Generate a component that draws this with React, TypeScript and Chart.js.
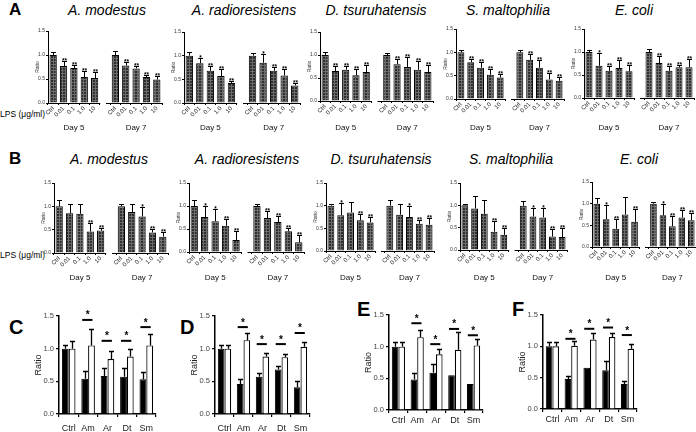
import React, { useEffect, useRef } from "react";
import { Chart, registerables } from "chart.js";
Chart.register(...registerables);

const FONT = "'Liberation Sans', Arial, Helvetica, sans-serif";

// ---------- categories / labels ----------
const lpsDoses = ["Ctrl", "0.01", "0.1", "1.0", "10"];
const dayLabels = ["Day 5", "Day 7"];
const species = ["A. modestus", "A. radioresistens", "D. tsuruhatensis", "S. maltophilia", "E. coli"];
const strainGroups = ["Ctrl", "Am", "Ar", "Dt", "Sm"];
const lpsAxisLabel = "LPS (\u03bcg/ml)";
const yTitle = "Ratio";

// ---------- Panel A (Day 5 x5, Day 7 x5) ----------
const amMeanA = [1.0, 0.77, 0.73, 0.54, 0.52, 1.0, 0.78, 0.72, 0.54, 0.49];
const amErrA = [1.07, 0.87, 0.8, 0.66, 0.64, 1.08, 0.85, 0.78, 0.58, 0.56];
const amStarsA = ["", "**", "**", "**", "**", "", "**", "**", "**", "**"];

const arMeanA = [1.0, 0.84, 0.68, 0.57, 0.42, 1.0, 0.85, 0.68, 0.58, 0.37];
const arErrA = [1.07, 0.96, 0.78, 0.71, 0.47, 1.05, 1.03, 0.76, 0.71, 0.42];
const arStarsA = ["", "*", "**", "**", "**", "", "*", "**", "**", "**"];

const dtMeanA = [1.0, 0.65, 0.68, 0.56, 0.63, 1.0, 0.8, 0.74, 0.68, 0.63];
const dtErrA = [1.07, 0.76, 0.76, 0.69, 0.78, 1.05, 0.92, 0.96, 0.87, 0.78];
const dtStarsA = ["", "**", "**", "**", "**", "", "**", "**", "**", "**"];

const smMeanA = [1.0, 0.79, 0.67, 0.52, 0.46, 1.0, 0.84, 0.67, 0.42, 0.39];
const smErrA = [1.05, 0.86, 0.8, 0.64, 0.53, 1.04, 0.97, 0.84, 0.55, 0.48];
const smStarsA = ["", "**", "**", "**", "**", "", "**", "**", "**", "**"];

const ecMeanA = [1.0, 0.7, 0.59, 0.65, 0.58, 1.0, 0.76, 0.59, 0.67, 0.67];
const ecErrA = [1.05, 0.98, 0.7, 0.83, 0.72, 1.07, 0.91, 0.69, 0.72, 0.84];
const ecStarsA = ["", "*", "**", "**", "**", "", "**", "**", "**", "**"];

// ---------- Panel B ----------
const amMeanB = [1.0, 0.85, 0.84, 0.46, 0.48, 1.0, 0.88, 0.78, 0.44, 0.35];
const amErrB = [1.14, 1.06, 1.05, 0.64, 0.53, 1.05, 1.06, 0.99, 0.51, 0.46];
const amStarsB = ["", "", "", "**", "**", "", "", "*", "**", "**"];

const arMeanB = [1.0, 0.76, 0.67, 0.57, 0.26, 1.0, 0.74, 0.65, 0.45, 0.21];
const arErrB = [1.14, 1.0, 0.93, 0.71, 0.46, 1.05, 0.9, 0.79, 0.52, 0.36];
const arStarsB = ["", "*", "*", "**", "**", "", "**", "**", "**", "**"];

const dtMeanB = [1.0, 0.79, 0.85, 0.68, 0.63, 1.0, 0.8, 0.75, 0.6, 0.58];
const dtErrB = [1.03, 1.06, 1.07, 0.81, 0.76, 1.12, 1.04, 0.99, 0.68, 0.72];
const dtStarsB = ["", "*", "", "**", "**", "", "", "*", "**", "**"];

const smMeanB = [1.0, 0.93, 0.81, 0.41, 0.34, 0.99, 0.75, 0.73, 0.3, 0.29];
const smErrB = [1.02, 1.2, 1.11, 0.64, 0.49, 1.09, 0.93, 0.93, 0.46, 0.49];
const smStarsB = ["", "", "", "**", "**", "", "*", "*", "**", "**"];

const ecMeanB = [1.0, 0.64, 0.42, 0.75, 0.58, 1.0, 0.73, 0.48, 0.68, 0.62];
const ecErrB = [1.14, 0.96, 0.65, 1.15, 0.88, 1.04, 1.0, 0.71, 0.86, 0.78];
const ecStarsB = ["", "*", "**", "", "**", "", "*", "**", "**", "**"];

// ---------- Panels C-F (black = filled, white = open) ----------
const cBlack = [1.0, 0.54, 0.58, 0.57, 0.53];
const cBlackErr = [1.06, 0.66, 0.7, 0.7, 0.64];
const cWhite = [1.0, 1.05, 0.84, 0.88, 1.05];
const cWhiteErr = [1.11, 1.3, 0.96, 1.0, 1.22];
const cSig = [null, 1.44, 1.12, 1.12, 1.33];

const dBlack = [1.0, 0.46, 0.57, 0.68, 0.41];
const dBlackErr = [1.06, 0.54, 0.63, 0.74, 0.51];
const dWhite = [1.0, 1.13, 0.88, 0.87, 1.03];
const dWhiteErr = [1.05, 1.24, 0.93, 0.92, 1.1];
const dSig = [null, 1.33, 1.07, 1.07, 1.24];

const eBlack = [1.0, 0.48, 0.59, 0.55, 0.41];
const eBlackErr = [1.07, 0.59, 0.72, null, null];
const eWhite = [1.0, 1.15, 0.88, 0.95, 1.02];
const eWhiteErr = [1.07, 1.26, 0.97, 1.23, 1.12];
const eSig = [null, 1.37, 1.04, 1.28, 1.18];

const fBlack = [1.0, 0.48, 0.66, 0.62, 0.4];
const fBlackErr = [1.07, 0.52, null, 0.76, 0.45];
const fWhite = [1.0, 1.01, 1.11, 1.15, 0.96];
const fWhiteErr = [1.07, 1.08, 1.21, 1.22, 1.04];
const fSig = [null, 1.12, 1.28, 1.3, 1.18];

// ---------- tables built from arrays ----------
const rowA = [
  { mean: amMeanA, err: amErrA, stars: amStarsA },
  { mean: arMeanA, err: arErrA, stars: arStarsA },
  { mean: dtMeanA, err: dtErrA, stars: dtStarsA },
  { mean: smMeanA, err: smErrA, stars: smStarsA },
  { mean: ecMeanA, err: ecErrA, stars: ecStarsA },
];
const rowB = [
  { mean: amMeanB, err: amErrB, stars: amStarsB },
  { mean: arMeanB, err: arErrB, stars: arStarsB },
  { mean: dtMeanB, err: dtErrB, stars: dtStarsB },
  { mean: smMeanB, err: smErrB, stars: smStarsB },
  { mean: ecMeanB, err: ecErrB, stars: ecStarsB },
];
const bottom = [
  { black: cBlack, blackErr: cBlackErr, white: cWhite, whiteErr: cWhiteErr, sig: cSig },
  { black: dBlack, blackErr: dBlackErr, white: dWhite, whiteErr: dWhiteErr, sig: dSig },
  { black: eBlack, blackErr: eBlackErr, white: eWhite, whiteErr: eWhiteErr, sig: eSig },
  { black: fBlack, blackErr: fBlackErr, white: fWhite, whiteErr: fWhiteErr, sig: fSig },
];

// ---------- layout (plot rectangles: left, right, top(1.5), bottom(0)) ----------
const rowARects = [
  [48, 162, 31, 103],
  [184, 300, 32, 103],
  [320, 433, 32, 101],
  [456, 564, 29, 99],
  [584, 694, 29, 98],
];
const rowBRects = [
  [54, 168, 183, 253],
  [189, 304, 183, 252],
  [326, 434, 183, 251],
  [460, 567, 183, 250],
  [592, 696, 182, 247],
];
const bottomRects = [
  [59, 156, 316, 414, 6],
  [215, 310, 316, 414, 6],
  [389, 483, 315, 410, 2],
  [543, 637, 315, 409, 2],
];
const titleCentersA = [107, 244, 376, 508, 634];
const titleCentersB = [109, 247, 381, 511, 639];
const letterPos = [
  [9, 1, 17],
  [9, 150, 17],
  [9, 317, 20],
  [180, 317, 20],
  [357, 299, 20],
  [512, 299, 20],
];
const letters = ["A", "B", "C", "D", "E", "F"];

function hatch(ctx: CanvasRenderingContext2D) {
  const pc = document.createElement("canvas");
  pc.width = 3;
  pc.height = 3;
  const g = pc.getContext("2d")!;
  g.fillStyle = "#2e2e2e";
  g.fillRect(0, 0, 3, 3);
  g.fillStyle = "#6c6c6c";
  g.fillRect(0, 0, 3, 1);
  g.fillRect(0, 0, 1, 3);
  return ctx.createPattern(pc, "repeat");
}

function SmallPanel({ mean, err, stars, rect, dayY }: any) {
  const ref = useRef<HTMLCanvasElement>(null);
  const [l, r, t, b] = rect;
  const YW = 13, PT = 6, PR = 3, XH = 14, PB = 28;
  const W = YW + (r - l) + PR;
  const H = PT + (b - t) + XH + PB;
  const top = t - PT;
  useEffect(() => {
    const cv = ref.current!;
    const ctx0 = cv.getContext("2d")!;
    const labels = [...lpsDoses, "", ...lpsDoses];
    const vals = [...mean.slice(0, 5), null, ...mean.slice(5)];
    const errs = [...err.slice(0, 5), null, ...err.slice(5)];
    const st = [...stars.slice(0, 5), "", ...stars.slice(5)];
    const decor = {
      id: "decorSmall",
      afterDatasetsDraw(chart: any) {
        const ctx = chart.ctx;
        const xs = chart.scales.x;
        const ys = chart.scales.y;
        const ca = chart.chartArea;
        const meta = chart.getDatasetMeta(0);
        ctx.save();
        ctx.strokeStyle = "#000";
        ctx.fillStyle = "#000";
        ctx.lineWidth = 1;
        meta.data.forEach((bar: any, i: number) => {
          if (errs[i] == null || vals[i] == null) return;
          const x = Math.round(bar.x) + 0.5;
          const y0 = ys.getPixelForValue(vals[i]);
          const y1 = Math.round(ys.getPixelForValue(errs[i])) + 0.5;
          ctx.beginPath();
          ctx.moveTo(x, y0);
          ctx.lineTo(x, y1);
          ctx.moveTo(x - 2.5, y1);
          ctx.lineTo(x + 2.5, y1);
          ctx.stroke();
          if (st[i]) {
            ctx.font = `bold 6.5px ${FONT}`;
            ctx.textAlign = "center";
            ctx.textBaseline = "alphabetic";
            ctx.fillText(st[i], x, y1 + 1.5);
          }
        });
        // broken x axis
        const yb = Math.round(ca.bottom) + 0.5;
        const x4 = xs.getPixelForValue(4);
        const x5 = xs.getPixelForValue(5);
        const bw = meta.data[4].width;
        ctx.beginPath();
        ctx.moveTo(ca.left, yb);
        ctx.lineTo(x4 + bw / 2 + 2, yb);
        ctx.moveTo(x5 + 1, yb);
        ctx.lineTo(ca.right, yb);
        ctx.stroke();
        // day labels
        ctx.font = `8px ${FONT}`;
        ctx.textAlign = "center";
        ctx.textBaseline = "middle";
        ctx.fillStyle = "#111";
        const c5 = (xs.getPixelForValue(0) + xs.getPixelForValue(4)) / 2;
        const c7 = (xs.getPixelForValue(6) + xs.getPixelForValue(10)) / 2;
        ctx.fillText(dayLabels[0], c5, dayY - top);
        ctx.fillText(dayLabels[1], c7, dayY - top);
        ctx.restore();
      },
    };
    const chart = new Chart(cv, {
      type: "bar",
      data: {
        labels,
        datasets: [
          {
            data: vals,
            backgroundColor: hatch(ctx0) as any,
            borderColor: "#000",
            borderWidth: 1,
            barPercentage: 0.7,
            categoryPercentage: 1,
          },
        ],
      },
      options: {
        animation: false,
        responsive: false,
        maintainAspectRatio: false,
        devicePixelRatio: 1,
        layout: { padding: { top: PT, right: PR, bottom: PB, left: 0 } },
        plugins: { legend: { display: false }, tooltip: { enabled: false } },
        scales: {
          x: {
            type: "category",
            offset: true,
            grid: { display: true, drawOnChartArea: false, drawTicks: true, tickLength: 2, color: "#000" },
            border: { display: false },
            ticks: {
              autoSkip: false,
              minRotation: 45,
              maxRotation: 45,
              padding: 0,
              font: { size: 6, family: FONT },
              color: "#222",
            },
            afterFit(s: any) {
              s.height = XH;
              s.paddingLeft = 0;
              s.paddingRight = 0;
            },
          },
          y: {
            min: 0,
            max: 1.5,
            ticks: {
              stepSize: 0.5,
              callback: (v: any) => Number(v).toFixed(1),
              font: { size: 5, family: FONT },
              color: "#333",
              padding: 1,
            },
            grid: { display: true, drawOnChartArea: false, drawTicks: true, tickLength: 2, color: "#000" },
            border: { display: true, color: "#000", width: 1 },
            title: { display: true, text: yTitle, font: { size: 5, family: FONT }, color: "#333", padding: 0 },
            afterFit(s: any) {
              s.width = YW;
              s.paddingTop = 0;
              s.paddingBottom = 0;
            },
          },
        },
      } as any,
      plugins: [decor],
    });
    return () => chart.destroy();
  }, []);
  return (
    <canvas
      ref={ref}
      width={W}
      height={H}
      style={{ position: "absolute", left: l - YW, top, width: W, height: H }}
    />
  );
}

function PairPanel({ black, blackErr, white, whiteErr, sig, rect }: any) {
  const ref = useRef<HTMLCanvasElement>(null);
  const [l, r, t, b, tickPad] = rect;
  const YW = 26, PT = 12, PR = 4, XH = 18;
  const W = YW + (r - l) + PR;
  const H = PT + (b - t) + XH;
  const top = t - PT;
  useEffect(() => {
    const cv = ref.current!;
    const decor = {
      id: "decorPair",
      afterDatasetsDraw(chart: any) {
        const ctx = chart.ctx;
        const ys = chart.scales.y;
        const m0 = chart.getDatasetMeta(0);
        const m1 = chart.getDatasetMeta(1);
        ctx.save();
        ctx.strokeStyle = "#000";
        ctx.fillStyle = "#000";
        const drawErr = (meta: any, vals: any[], errs: any[]) => {
          meta.data.forEach((bar: any, i: number) => {
            if (errs[i] == null) return;
            const x = Math.round(bar.x) + 0.5;
            const y0 = ys.getPixelForValue(vals[i]);
            const y1 = Math.round(ys.getPixelForValue(errs[i])) + 0.5;
            ctx.lineWidth = 1.3;
            ctx.beginPath();
            ctx.moveTo(x, y0);
            ctx.lineTo(x, y1);
            ctx.moveTo(x - 2.5, y1);
            ctx.lineTo(x + 2.5, y1);
            ctx.stroke();
          });
        };
        drawErr(m0, black, blackErr);
        drawErr(m1, white, whiteErr);
        sig.forEach((v: any, i: number) => {
          if (v == null) return;
          const bx = m0.data[i].x;
          const wx = m1.data[i].x;
          const y = ys.getPixelForValue(v);
          ctx.lineWidth = 2;
          ctx.beginPath();
          ctx.moveTo(bx - 2.5, y);
          ctx.lineTo(wx + 1, y);
          ctx.stroke();
          ctx.font = `bold 10px ${FONT}`;
          ctx.textAlign = "center";
          ctx.textBaseline = "alphabetic";
          ctx.fillText("*", (bx + wx) / 2 - 0.5, y - 1.5);
        });
        ctx.restore();
      },
    };
    const chart = new Chart(cv, {
      type: "bar",
      data: {
        labels: strainGroups,
        datasets: [
          {
            data: black,
            backgroundColor: "#000",
            borderColor: "#000",
            borderWidth: 1,
            barPercentage: 1,
            categoryPercentage: 0.7,
          },
          {
            data: white,
            backgroundColor: "#fff",
            borderColor: "#000",
            borderWidth: 1.2,
            barPercentage: 1,
            categoryPercentage: 0.7,
          },
        ],
      },
      options: {
        animation: false,
        responsive: false,
        maintainAspectRatio: false,
        devicePixelRatio: 1,
        layout: { padding: { top: PT, right: PR, bottom: 0, left: 0 } },
        plugins: { legend: { display: false }, tooltip: { enabled: false } },
        scales: {
          x: {
            type: "category",
            offset: true,
            grid: { display: true, drawOnChartArea: false, drawTicks: true, tickLength: 3, color: "#000", lineWidth: 1.2 },
            border: { display: true, color: "#000", width: 1.5 },
            ticks: {
              autoSkip: false,
              maxRotation: 0,
              padding: tickPad,
              font: { size: 9, family: FONT },
              color: "#222",
            },
            afterFit(s: any) {
              s.height = XH;
              s.paddingLeft = 0;
              s.paddingRight = 0;
            },
          },
          y: {
            min: 0,
            max: 1.5,
            ticks: {
              stepSize: 0.5,
              callback: (v: any) => Number(v).toFixed(1),
              font: { size: 7.5, family: FONT },
              color: "#444",
              padding: 2,
            },
            grid: { display: true, drawOnChartArea: false, drawTicks: true, tickLength: 3, color: "#000", lineWidth: 1.2 },
            border: { display: true, color: "#000", width: 1.5 },
            title: { display: true, text: yTitle, font: { size: 9, family: FONT }, color: "#222", padding: 0 },
            afterFit(s: any) {
              s.width = YW;
              s.paddingTop = 0;
              s.paddingBottom = 0;
            },
          },
        },
      } as any,
      plugins: [decor],
    });
    return () => chart.destroy();
  }, []);
  return (
    <canvas
      ref={ref}
      width={W}
      height={H}
      style={{ position: "absolute", left: l - YW, top, width: W, height: H }}
    />
  );
}

export default function App() {
  return (
    <div
      style={{
        position: "absolute",
        left: 0,
        top: 0,
        width: 696,
        height: 432,
        background: "#fff",
        overflow: "hidden",
        fontFamily: FONT,
        color: "#000",
      }}
    >
      {letters.map((L, i) => (
        <div
          key={L}
          style={{
            position: "absolute",
            left: letterPos[i][0],
            top: letterPos[i][1],
            fontSize: letterPos[i][2],
            lineHeight: 1,
            fontWeight: "bold",
          }}
        >
          {L}
        </div>
      ))}
      {species.map((s, i) => (
        <div
          key={"ta" + i}
          style={{
            position: "absolute",
            left: titleCentersA[i] - 100,
            width: 200,
            top: 3,
            textAlign: "center",
            fontSize: 14,
            lineHeight: 1,
            fontStyle: "italic",
          }}
        >
          {s}
        </div>
      ))}
      {species.map((s, i) => (
        <div
          key={"tb" + i}
          style={{
            position: "absolute",
            left: titleCentersB[i] - 100,
            width: 200,
            top: 152,
            textAlign: "center",
            fontSize: 14,
            lineHeight: 1,
            fontStyle: "italic",
          }}
        >
          {s}
        </div>
      ))}
      <div style={{ position: "absolute", left: 0, top: 110, fontSize: 8.5, lineHeight: 1, whiteSpace: "nowrap" }}>
        {lpsAxisLabel}
      </div>
      <div style={{ position: "absolute", left: 0, top: 251, fontSize: 8.5, lineHeight: 1, whiteSpace: "nowrap" }}>
        {lpsAxisLabel}
      </div>
      {rowA.map((d, i) => (
        <SmallPanel key={"a" + i} {...d} rect={rowARects[i]} dayY={128} />
      ))}
      {rowB.map((d, i) => (
        <SmallPanel key={"b" + i} {...d} rect={rowBRects[i]} dayY={278} />
      ))}
      {bottom.map((d, i) => (
        <PairPanel key={"p" + i} {...d} rect={bottomRects[i]} />
      ))}
    </div>
  );
}
